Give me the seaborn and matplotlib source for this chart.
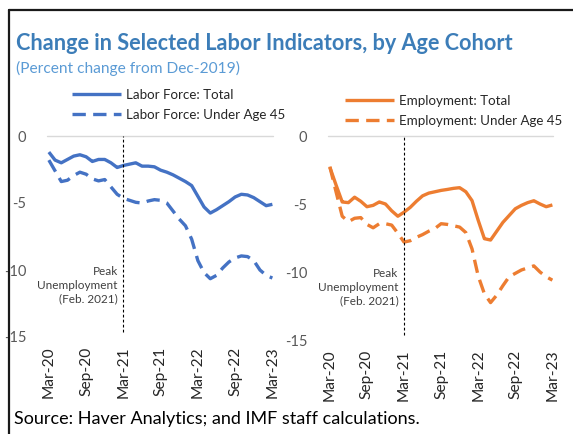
import pandas as pd
import matplotlib.pyplot as plt
import seaborn as sns

# months since Mar-2020 (Mar-20 ... Mar-23)
months = list(range(37))
tick_pos = [0, 6, 12, 18, 24, 30, 36]
tick_labels = ["Mar-20", "Sep-20", "Mar-21", "Sep-21", "Mar-22", "Sep-22", "Mar-23"]
peak_pos = 12  # where the peak-unemployment marker sits on the axis

lf_total = [-1.2, -1.8, -2.0, -1.75, -1.5, -1.4, -1.55, -1.9, -1.75, -1.75,
            -2.0, -2.35, -2.2, -2.1, -2.0, -2.25, -2.25, -2.3, -2.55, -2.7,
            -2.9, -3.15, -3.4, -3.7, -4.5, -5.3, -5.75, -5.5, -5.2, -4.9,
            -4.55, -4.35, -4.4, -4.6, -4.9, -5.2, -5.1]
lf_under45 = [-1.8, -2.6, -3.4, -3.3, -2.95, -2.7, -2.85, -3.2, -3.35, -3.25,
              -3.8, -4.35, -4.65, -4.8, -4.95, -5.0, -4.85, -4.75, -4.8, -5.0,
              -5.6, -6.2, -6.7, -7.7, -9.3, -10.2, -10.65, -10.4, -9.85, -9.4,
              -9.1, -8.95, -9.0, -9.3, -10.0, -10.4, -10.6]
emp_total = [-2.3, -3.6, -4.85, -4.9, -4.5, -4.8, -5.2, -5.1, -4.85, -5.0,
             -5.5, -5.9, -5.6, -5.25, -4.8, -4.4, -4.2, -4.1, -4.0, -3.93,
             -3.85, -3.8, -4.1, -4.75, -6.2, -7.55, -7.65, -7.0, -6.35, -5.85,
             -5.35, -5.1, -4.9, -4.76, -5.0, -5.2, -5.07]
emp_under45 = [-2.25, -4.1, -5.9, -6.3, -6.05, -6.0, -6.5, -6.75, -6.45, -6.45,
               -6.55, -7.15, -7.8, -7.7, -7.45, -7.25, -7.0, -6.8, -6.45, -6.5,
               -6.6, -6.7, -7.1, -8.3, -10.3, -11.6, -12.25, -11.7, -11.0, -10.35,
               -10.1, -9.85, -9.7, -9.55, -10.0, -10.35, -10.6]

sns.set_style("white")
plt.rcParams["font.family"] = ["Lato", "DejaVu Sans"]

BLUE = "#4472C4"
ORANGE = "#ED7D31"
GRAY = "#595959"

fig = plt.figure(figsize=(5.73, 4.34), dpi=100)
W, H = 573, 434


def px_axes(x0, y0, x1, y1):
    return fig.add_axes([x0 / W, 1 - y1 / H, (x1 - x0) / W, (y1 - y0) / H])


ax1 = px_axes(47, 136, 273, 337)
ax2 = px_axes(328, 136, 553, 340)

panels = [
    (ax1, lf_total, lf_under45, "Labor Force: Total", "Labor Force: Under Age 45", BLUE, (72, 89)),
    (ax2, emp_total, emp_under45, "Employment: Total", "Employment: Under Age 45", ORANGE, (345, 95)),
]

for ax, tot, und, lab_t, lab_u, col, leg_xy in panels:
    df = pd.DataFrame({
        "month": months * 2,
        "value": tot + und,
        "series": [lab_t] * len(months) + [lab_u] * len(months),
    })
    sns.lineplot(data=df, x="month", y="value", hue="series", style="series",
                 palette=[col, col], dashes=[(1, 0), (4, 2.2)], linewidth=2.4,
                 ax=ax, legend=True)
    ax.set_xlim(-0.3, 36.1)
    ax.set_ylim(-15, 0)
    ax.axhline(0, color="#D9D9D9", lw=1, zorder=0, clip_on=False)
    ax.vlines(peak_pos, -14.6, 0, colors="black", linestyles=(0, (2.5, 2)), lw=0.8)
    ax.text(peak_pos - 0.9, -9.7, "Peak\nUnemployment\n(Feb. 2021)", ha="right", va="top",
            fontsize=8.5, color="#404040", linespacing=1.3)
    ax.set_xticks(tick_pos)
    ax.set_xticklabels(tick_labels, rotation=90, fontsize=11.2, color="#262626")
    ax.set_yticks([0, -5, -10, -15])
    ax.set_yticklabels(["0", "-5", "-10", "-15"], fontsize=10.5, color=GRAY)
    ax.tick_params(axis="x", length=0, pad=7)
    ax.tick_params(axis="y", length=0, pad=15)
    ax.set_xlabel("")
    ax.set_ylabel("")
    for s in ax.spines.values():
        s.set_visible(False)
    handles, labels = ax.get_legend_handles_labels()
    ax.legend(handles, labels, loc="upper left",
              bbox_to_anchor=(leg_xy[0] / W, 1 - leg_xy[1] / H), bbox_transform=fig.transFigure,
              frameon=False, fontsize=9.6, handlelength=3.7, handletextpad=0.35,
              borderpad=0, borderaxespad=0, labelspacing=0.6)

fig.text(16 / W, 1 - 43 / H, "Change in Selected Labor Indicators, by Age Cohort",
         fontsize=15.6, fontweight="bold", color="#3C7DB8", va="center", ha="left")
fig.text(16 / W, 1 - 68 / H, "(Percent change from Dec-2019)",
         fontsize=11.2, color="#5B9BD5", va="center", ha="left")
fig.text(14 / W, 1 - 424 / H, "Source: Haver Analytics; and IMF staff calculations.",
         fontsize=13, color="black", va="baseline", ha="left")

# outer frame (top and left edges visible)
fig.add_artist(plt.Line2D([9 / W, 1], [1 - 10 / H, 1 - 10 / H], transform=fig.transFigure,
                          color="#1a1a1a", lw=1.6))
fig.add_artist(plt.Line2D([9 / W, 9 / W], [0, 1 - 10 / H], transform=fig.transFigure,
                          color="#1a1a1a", lw=1.6))

fig.savefig("out.png", dpi=100)
